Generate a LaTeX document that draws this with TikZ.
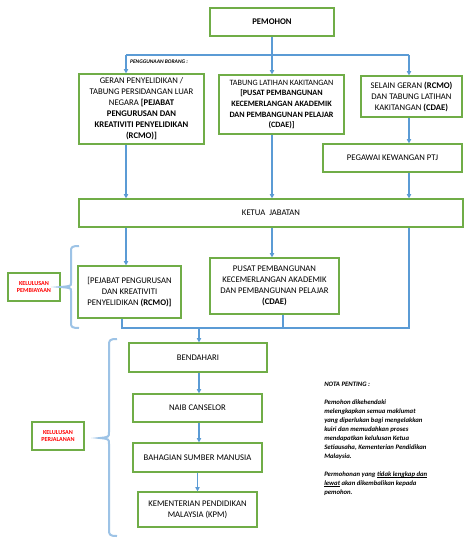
\documentclass[tikz,border=0pt]{standalone}
\usepackage{fontspec}
\setmainfont{Carlito}
\usetikzlibrary{arrows.meta}
\definecolor{boxgreen}{HTML}{70AD47}
\definecolor{lineblue}{HTML}{5B9BD5}
\definecolor{braceblue}{HTML}{9DC3E6}
\definecolor{redtxt}{HTML}{FF0000}
\newcommand\myul[1]{\setbox0\hbox{#1}\rlap{\rule[-0.9pt]{\wd0}{0.45pt}}\box0\relax}
\begin{document}
\begin{tikzpicture}[x=0.75pt,y=-0.75pt,
  box/.style={draw=boxgreen, line width=0.9pt, align=center, inner sep=1pt,
    font=\fontsize{6.5}{8.25}\selectfont},
  smallbox/.style={box, font=\fontsize{6.1}{7.9}\selectfont},
  labelbox/.style={draw=boxgreen, line width=0.9pt, align=center, inner sep=0pt,
    text=redtxt, font=\fontsize{4.6}{5.2}\selectfont\bfseries,
    minimum width=39pt, minimum height=21pt},
  conn/.style={draw=lineblue, line width=0.8pt},
  arr/.style={conn, -{Triangle[length=3.2pt,width=3.2pt]}},
  bracestyle/.style={draw=braceblue, line width=1.5pt}]
\useasboundingbox[fill=white] (0,0) rectangle (470,543);

% boxes
\node[box, minimum width=93pt, minimum height=21pt] (pemohon) at (272,22) {\textbf{PEMOHON}};
\node[box, minimum width=93.75pt, minimum height=52.5pt] (geran) at (141.5,109)
  {GERAN PENYELIDIKAN /\\ TABUNG PERSIDANGAN LUAR\\ NEGARA \textbf{[PEJABAT}\\ \textbf{PENGURUSAN DAN}\\ \textbf{KREATIVITI PENYELIDIKAN}\\ \textbf{(RCMO)]}};
\node[smallbox, minimum width=93.75pt, minimum height=44.25pt] (tabung) at (281.5,104.5)
  {TABUNG LATIHAN KAKITANGAN\\ \textbf{[PUSAT PEMBANGUNAN}\\ \textbf{KECEMERLANGAN AKADEMIK}\\ \textbf{DAN PEMBANGUNAN PELAJAR}\\ \textbf{(CDAE)]}};
\node[box, minimum width=75.75pt, minimum height=30.75pt] (selain) at (411.5,96.5)
  {SELAIN GERAN \textbf{(RCMO)}\\ DAN TABUNG LATIHAN\\ KAKITANGAN \textbf{(CDAE)}};
\node[box, minimum width=104.25pt, minimum height=21pt] (pegawai) at (392.5,158) {PEGAWAI KEWANGAN PTJ};
\node[box, minimum width=288pt, minimum height=21pt] (ketua) at (271,213) {KETUA\ \ JABATAN};
\node[box, minimum width=77.25pt, minimum height=39pt] (pejabat) at (129.5,292)
  {[PEJABAT PENGURUSAN\\ DAN KREATIVITI\\ PENYELIDIKAN \textbf{(RCMO)]}};
\node[box, minimum width=96.75pt, minimum height=42pt] (pusat) at (274.5,286)
  {PUSAT PEMBANGUNAN\\ KECEMERLANGAN AKADEMIK\\ DAN PEMBANGUNAN PELAJAR\\ \textbf{(CDAE)}};
\node[box, minimum width=103.5pt, minimum height=21.75pt] (bendahari) at (198,357.5) {BENDAHARI};
\node[box, minimum width=96.75pt, minimum height=21pt] (naib) at (197.5,408) {NAIB CANSELOR};
\node[box, minimum width=96.75pt, minimum height=21.75pt] (bahagian) at (197.5,457.5) {BAHAGIAN SUMBER MANUSIA};
\node[box, minimum width=89.25pt, minimum height=26.25pt] (kpm) at (197.5,509.5)
  {KEMENTERIAN PENDIDIKAN\\ MALAYSIA (KPM)};
\node[labelbox] (kpembiayaan) at (34,287) {KELULUSAN\\ PEMBIAYAAN};
\node[labelbox] (kperjalanan) at (58,436) {KELULUSAN\\ PERJALANAN};

\node[font=\fontsize{4.1}{4.7}\selectfont\bfseries\itshape, inner sep=0pt] (borang) at (159,62) {PENGGUNAAN BORANG :};

\node[anchor=north west, align=left, inner sep=0pt,
  font=\fontsize{5.05}{6.75}\selectfont\bfseries\itshape] (nota) at (324,382)
  {NOTA PENTING :\\[6.75pt]
   Pemohon dikehendaki\\
   melengkapkan semua maklumat\\
   yang diperlukan bagi mengelakkan\\
   kuiri dan memudahkan proses\\
   mendapatkan kelulusan Ketua\\
   Setiausaha, Kementerian Pendidikan\\
   Malaysia.\\[6.75pt]
   Permohonan yang \myul{tidak lengkap dan}\\
   \myul{lewat} akan dikembalikan kepada\\
   pemohon.};

% junction coordinates
\coordinate (c1) at (126,55);
\coordinate (c3) at (409,55);
\coordinate (bl) at (122,328);
\coordinate (bm) at (283,328);
\coordinate (bc) at (199,328);
\coordinate (br) at (409,328);

% connectors top
\draw[conn] (pemohon.south) -- (pemohon.south |- c1);
\draw[conn] (c1) -- (c3);
\draw[arr] (c1) -- (c1 |- geran.north);
\draw[arr] (pemohon.south |- c1) -- (pemohon.south |- tabung.north);
\draw[arr] (c3) -- (c3 |- selain.north);
\draw[arr] (c3 |- selain.south) -- (c3 |- pegawai.north);
\draw[arr] (c1 |- geran.south) -- (c1 |- ketua.north);
\draw[arr] (pemohon.south |- tabung.south) -- (pemohon.south |- ketua.north);
\draw[arr] (c3 |- pegawai.south) -- (c3 |- ketua.north);

% below ketua
\draw[arr] (c1 |- ketua.south) -- (c1 |- pejabat.north);
\draw[arr] (pemohon.south |- ketua.south) -- (pemohon.south |- pusat.north);
\draw[conn] (bl |- pejabat.south) -- (bl) -- (br) -- (c3 |- ketua.south);
\draw[conn] (bm |- pusat.south) -- (bm);
\draw[arr] (bc) -- (bc |- bendahari.north);
\draw[arr] (bendahari.south -| bc) -- (naib.north -| bc);
\draw[arr] (naib.south -| bc) -- (bahagian.north -| bc);
\draw[arr] (bahagian.south -| kpm.north) -- (kpm.north);

% braces
\draw[bracestyle] (79,246) .. controls (72,246) and (71,247) .. (71,251) -- (71,283)
  .. controls (71,286) .. (61,287) .. controls (71,288) .. (71,291) -- (71,323)
  .. controls (71,327) and (72,328) .. (79,328);
\draw[bracestyle] (117,339) .. controls (110,339) and (109,340) .. (109,345) -- (109,432)
  .. controls (109,437) .. (100,438) .. controls (109,439) .. (109,444) -- (109,530)
  .. controls (109,535) and (110,536) .. (117,536);
\end{tikzpicture}
\end{document}
